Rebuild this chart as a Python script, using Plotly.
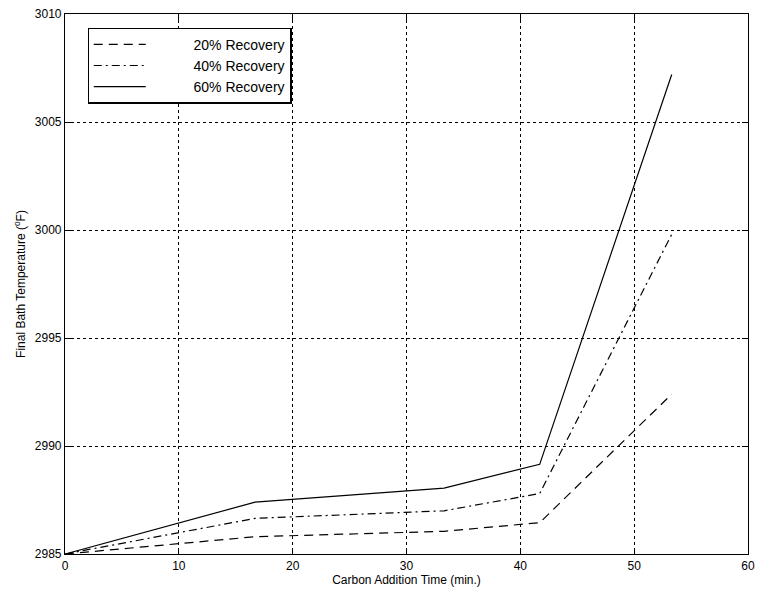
import plotly.graph_objects as go

x_time = [0, 16.7, 33.3, 41.7, 53.3]
rec20 = [2985.0, 2985.8, 2986.05, 2986.45, 2992.4]
rec40 = [2985.0, 2986.65, 2987.0, 2987.8, 2999.8]
rec60 = [2985.0, 2987.4, 2988.05, 2989.15, 3007.2]
names = ["20% Recovery", "40% Recovery", "60% Recovery"]
dashes = ["9px,6px", "8px,4px,2px,4px", "solid"]

pad = "\u00a0" * 11
fig = go.Figure()
for y, n, d in zip([rec20, rec40, rec60], names, dashes):
    fig.add_trace(go.Scatter(x=x_time, y=y, mode="lines", name=pad + n,
                             line=dict(color="black", width=1.2, dash=d)))

axis_common = dict(showline=True, linecolor="black", linewidth=1.2, mirror="ticks",
                   ticks="inside", ticklen=6, tickcolor="black",
                   showgrid=True, gridcolor="black", griddash="dot", gridwidth=1,
                   zeroline=False, tickfont=dict(size=12, color="black"))

fig.update_xaxes(range=[0, 60], dtick=10, tick0=0,
                 title=dict(text="Carbon Addition Time (min.)", font=dict(size=12, color="black"), standoff=4),
                 **axis_common)
fig.update_yaxes(range=[2985, 3010], dtick=5, tick0=2985,
                 title=dict(text="Final Bath Temperature (<sup>o</sup>F)", font=dict(size=12, color="black"), standoff=6),
                 **axis_common)

fig.update_layout(
    width=762, height=597,
    margin=dict(l=65, r=7, t=14, b=43),
    paper_bgcolor="white", plot_bgcolor="white",
    font=dict(family="Liberation Sans, Arial, sans-serif", color="black"),
    legend=dict(x=0.033, y=0.975, xanchor="left", yanchor="top",
                bgcolor="white", bordercolor="black", borderwidth=1.2,
                font=dict(size=14, color="black"), itemwidth=52,
                tracegroupgap=0),
    showlegend=True,
)

fig.write_html("out.html")
